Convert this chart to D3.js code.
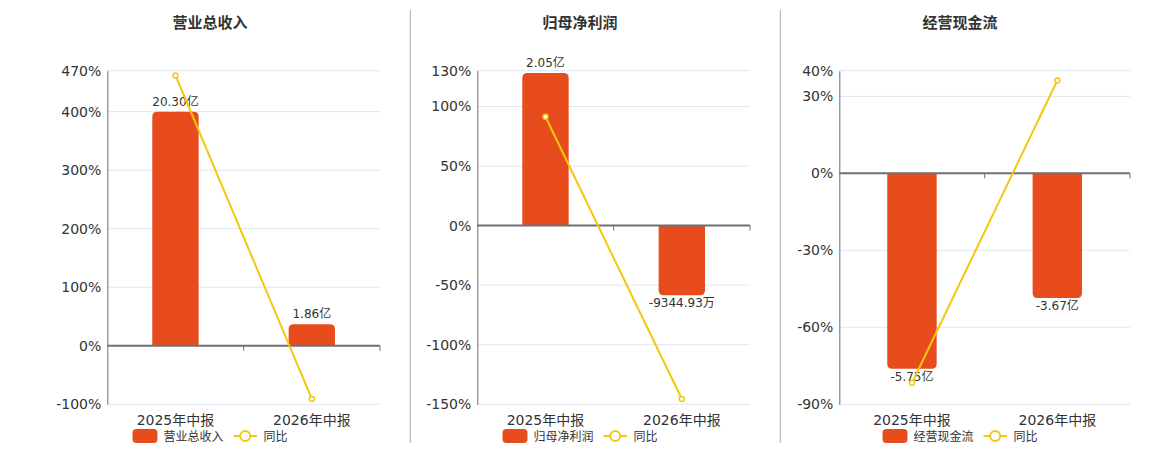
<!DOCTYPE html>
<html>
<head>
<meta charset="utf-8">
<script src="https://cdn.jsdelivr.net/npm/d3@7/dist/d3.min.js"></script>
<style>
  body { margin: 0; background: #fff; }
  svg { display: block; font-family: "DejaVu Sans", "Noto Sans CJK SC", sans-serif; }
</style>
</head>
<body>
<svg id="chart" width="1160" height="450"></svg>
<script>
// data (amounts in 亿, yoy in %)
const categories = ["2025年中报", "2026年中报"];
const titles = ["营业总收入", "归母净利润", "经营现金流"];

const revenue = [20.30, 1.86];
const revenueLabels = ["20.30亿", "1.86亿"];
const revenueYoY = [462, -90.8];

const profit = [2.05, -0.9345];
const profitLabels = ["2.05亿", "-9344.93万"];
const profitYoY = [91.3, -145.6];

const cashflow = [-5.75, -3.67];
const cashflowLabels = ["-5.75亿", "-3.67亿"];
const cashflowYoY = [-81.7, 36.2];

const revenueTicks = [470, 400, 300, 200, 100, 0, -100];
const profitTicks = [130, 100, 50, 0, -50, -100, -150];
const cashflowTicks = [40, 30, 0, -30, -60, -90];

// top of the hidden amount axis (aligned with the top % tick)
const barAxisTop = [23.85, 2.08, 3.02];

const barColor = "#e84c1d";
const lineColor = "#f2c80f";

const svg = d3.select("#chart");

// panel layout
const panels = [
  {x0: 20, x1: 400, left: 107.3, right: 380, bars: revenue, labels: revenueLabels, yoy: revenueYoY, ticks: revenueTicks},
  {x0: 410, x1: 750, left: 477.3, right: 750, bars: profit, labels: profitLabels, yoy: profitYoY, ticks: profitTicks},
  {x0: 780, x1: 1140, left: 839.3, right: 1130, bars: cashflow, labels: cashflowLabels, yoy: cashflowYoY, ticks: cashflowTicks}
];
const plotTop = 70.7, plotBottom = 404.3;

// dividers between panels
[410.3, 780.3].forEach(function(x) {
  svg.append("line")
      .attr("x1", x).attr("x2", x)
      .attr("y1", 10).attr("y2", 443)
      .attr("stroke", "#aaa")
      .attr("stroke-width", 1);
});

panels.forEach(function(p, idx) {
  const g = svg.append("g");
  const cx = (p.x0 + p.x1) / 2;
  const pMax = d3.max(p.ticks), pMin = d3.min(p.ticks);

  const y = d3.scaleLinear().domain([pMin, pMax]).range([plotBottom, plotTop]);
  const yBar = d3.scaleLinear()
      .domain([barAxisTop[idx] * pMin / pMax, barAxisTop[idx]])
      .range([plotBottom, plotTop]);
  const x = d3.scaleBand().domain(categories).range([p.left, p.right]).padding(0);
  const bw = x.bandwidth() * 0.34;

  // title
  g.append("text")
      .attr("x", cx)
      .attr("y", 28)
      .attr("text-anchor", "middle")
      .attr("font-size", 15)
      .attr("font-weight", "bold")
      .attr("fill", "#333")
      .text(titles[idx]);

  // gridlines
  g.selectAll(".grid")
      .data(p.ticks.filter(function(t) { return t !== 0; }))
      .enter()
      .append("line")
      .attr("x1", p.left).attr("x2", p.right)
      .attr("y1", function(d) { return y(d); })
      .attr("y2", function(d) { return y(d); })
      .attr("stroke", "#e0e6f1")
      .attr("stroke-width", 1);

  // y axis
  const yAxis = d3.axisLeft(y).tickValues(p.ticks).tickSize(0).tickPadding(6)
      .tickFormat(function(d) { return d + "%"; });
  const ya = g.append("g")
      .attr("transform", "translate(" + p.left + ",0)")
      .call(yAxis);
  ya.select(".domain").attr("stroke", "#6e7079");
  ya.selectAll("text")
      .attr("font-size", 14)
      .attr("fill", "#333")
      .attr("font-family", "DejaVu Sans, sans-serif");

  // bars, rounded only at the far end
  g.selectAll(".bar")
      .data(p.bars)
      .enter()
      .append("path")
      .attr("fill", barColor)
      .attr("d", function(d, i) {
        const x0 = x(categories[i]) + (x.bandwidth() - bw) / 2;
        const y0 = yBar(0), y1 = yBar(d);
        const r = Math.min(5, Math.abs(y1 - y0));
        const s = d >= 0 ? 1 : -1;
        return "M" + x0 + "," + y0 +
          "V" + (y1 + s * r) +
          "Q" + x0 + "," + y1 + " " + (x0 + r) + "," + y1 +
          "H" + (x0 + bw - r) +
          "Q" + (x0 + bw) + "," + y1 + " " + (x0 + bw) + "," + (y1 + s * r) +
          "V" + y0 + "Z";
      });

  // bar labels
  g.selectAll(".blabel")
      .data(p.bars)
      .enter()
      .append("text")
      .attr("x", function(d, i) { return x(categories[i]) + x.bandwidth() / 2; })
      .attr("y", function(d) { return d >= 0 ? yBar(d) - 6 : yBar(d) + 12; })
      .attr("text-anchor", "middle")
      .attr("font-size", 12)
      .attr("fill", "#333")
      .text(function(d, i) { return p.labels[i]; });

  // zero axis line with ticks
  const xAxis = d3.axisBottom(x).tickSize(5).tickFormat("");
  const xa = g.append("g")
      .attr("transform", "translate(0," + y(0) + ")")
      .call(xAxis);
  xa.select(".domain").attr("stroke", "#6e7079").attr("stroke-width", 2)
      .attr("d", "M" + p.left + ",0H" + p.right);
  xa.selectAll(".tick").remove();
  xa.selectAll(".edge")
      .data(categories)
      .enter()
      .append("line")
      .attr("x1", function(d) { return x(d) + x.bandwidth(); })
      .attr("x2", function(d) { return x(d) + x.bandwidth(); })
      .attr("y1", 0).attr("y2", 5)
      .attr("stroke", "#6e7079");

  // category labels
  g.selectAll(".xlabel")
      .data(categories)
      .enter()
      .append("text")
      .attr("x", function(d) { return x(d) + x.bandwidth() / 2; })
      .attr("y", 425)
      .attr("text-anchor", "middle")
      .attr("font-size", 14)
      .attr("fill", "#333")
      .text(function(d) { return d; });

  // yoy line
  const line = d3.line()
      .x(function(d, i) { return x(categories[i]) + x.bandwidth() / 2; })
      .y(function(d) { return y(d); });
  g.append("path")
      .datum(p.yoy)
      .attr("d", line)
      .attr("fill", "none")
      .attr("stroke", lineColor)
      .attr("stroke-width", 2);
  g.selectAll(".pt")
      .data(p.yoy)
      .enter()
      .append("circle")
      .attr("cx", function(d, i) { return x(categories[i]) + x.bandwidth() / 2; })
      .attr("cy", function(d) { return y(d); })
      .attr("r", 2.5)
      .attr("fill", "#fff")
      .attr("stroke", lineColor)
      .attr("stroke-width", 1.5);

  // legend
  const lx = cx - 77.5;
  const lg = g.append("g").attr("transform", "translate(" + lx + ",429)");
  lg.append("rect")
      .attr("width", 25).attr("height", 14)
      .attr("rx", 4)
      .attr("fill", barColor);
  lg.append("text")
      .attr("x", 31).attr("y", 11.5)
      .attr("font-size", 12)
      .attr("fill", "#333")
      .text(titles[idx]);
  lg.append("line")
      .attr("x1", 101).attr("x2", 124.5)
      .attr("y1", 7).attr("y2", 7)
      .attr("stroke", lineColor)
      .attr("stroke-width", 2);
  lg.append("circle")
      .attr("cx", 112.7).attr("cy", 7)
      .attr("r", 5)
      .attr("fill", "#fff")
      .attr("stroke", lineColor)
      .attr("stroke-width", 2);
  lg.append("text")
      .attr("x", 131).attr("y", 11.5)
      .attr("font-size", 12)
      .attr("fill", "#333")
      .text("同比");
});
</script>
</body>
</html>
